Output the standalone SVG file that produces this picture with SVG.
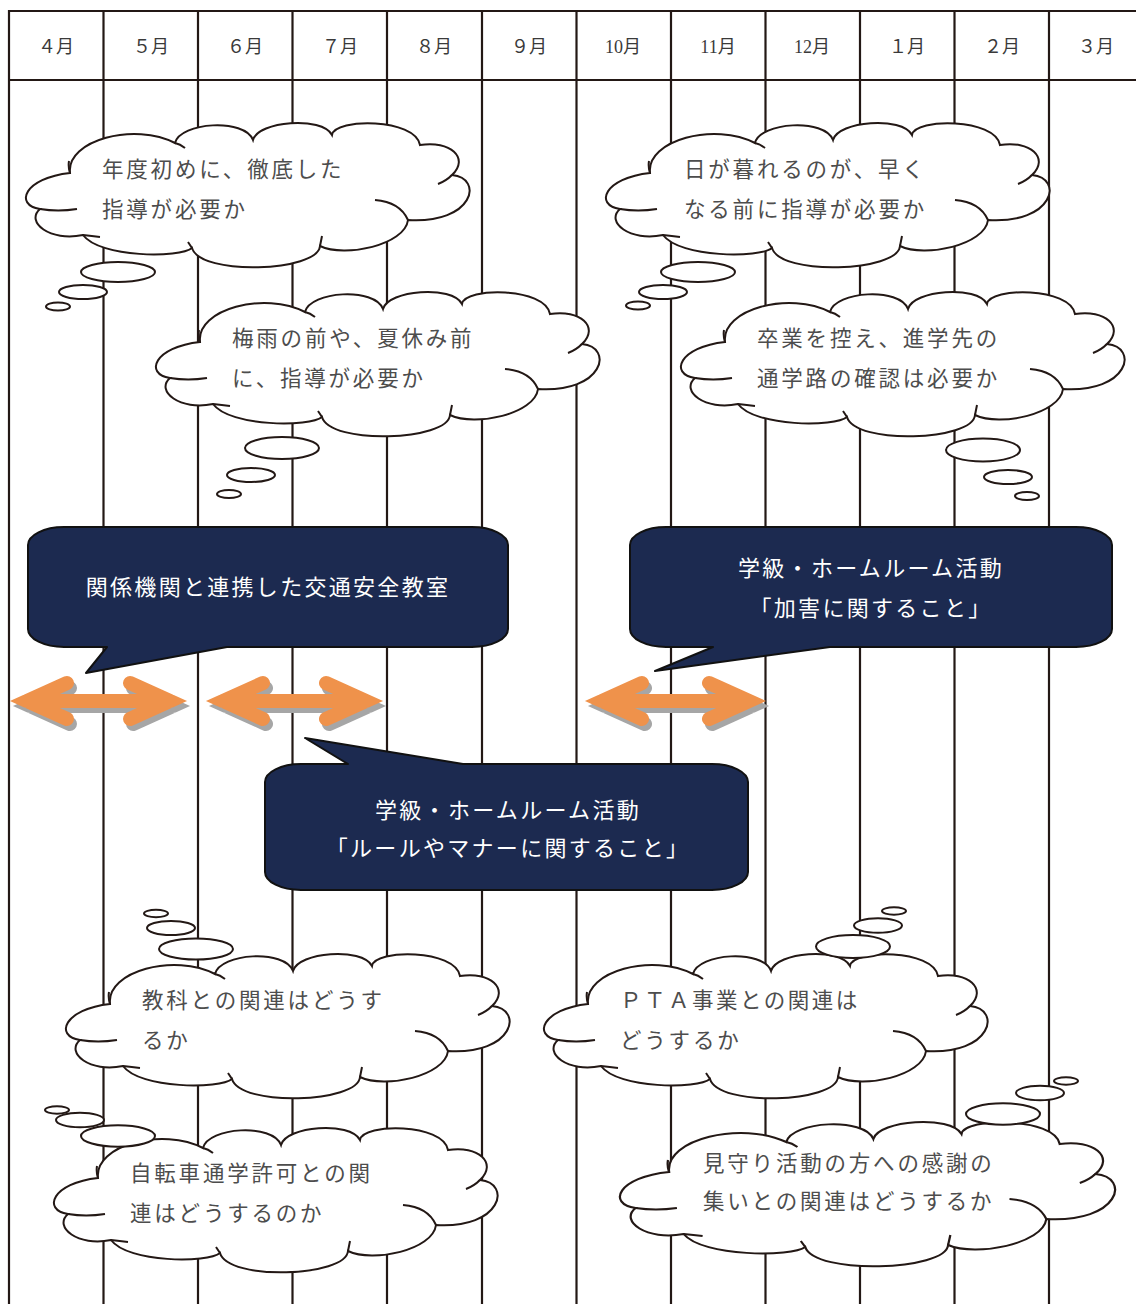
<svg xmlns="http://www.w3.org/2000/svg" xmlns:xlink="http://www.w3.org/1999/xlink" width="1136" height="1304" viewBox="0 0 1136 1304">
<style>
.ln{stroke:#231815;stroke-width:2.2;fill:none}
.cl{fill:#fff;stroke:#231815;stroke-width:2}
.ci{fill:none;stroke:#231815;stroke-width:2}
.ct{font-family:"Noto Sans CJK JP",sans-serif;font-size:21.5px;letter-spacing:2.8px;fill:#4d4d4d}
.co{fill:#1c2a50;stroke:#111;stroke-width:2;stroke-linejoin:round}
.cot{font-family:"Noto Sans CJK JP",sans-serif;font-size:22px;letter-spacing:2.3px;fill:#fff;text-anchor:middle}
.hd{font-family:"Liberation Serif","Noto Sans CJK JP",serif;font-size:18px;fill:#3a3a3a;text-anchor:middle}
.ar{stroke:#EF924B;stroke-width:14;fill:none;stroke-linecap:round;stroke-linejoin:miter;stroke-miterlimit:10}
.sh{stroke:#a6a6a6;stroke-width:14;fill:none;stroke-linecap:round;stroke-linejoin:miter;stroke-miterlimit:10}
</style>
<defs>
<path id="cloudShape" d="M40,209 C14,205 24,178 70,173 C66,140 135,122 175,143 C180,122 245,118 253,140 C258,121 322,116 332,135 C335,118 415,118 420,145 C450,140 470,158 452,175 C484,178 474,224 408,220 C405,245 345,258 320,246 C318,272 200,276 192,248 C180,258 100,258 83,235 C50,242 25,222 40,209 Z"/>
<path id="cloudInner" d="M40,209 Q58,212 77,209 M175,143 Q180,144 185,148 M83,235 Q92,236 100,237 M192,248 Q190,245 188,242 M320,246 Q321,241 322,236 M408,220 Q400,202 375,200 M452,175 Q446,181 438,184 M70,173 Q68,167 69,161"/>
<g id="cloud">
<use xlink:href="#cloudShape" href="#cloudShape" class="cl"/>
<use xlink:href="#cloudInner" href="#cloudInner" class="ci"/>
</g>
</defs>
<rect width="1136" height="1304" fill="#fff"/>
<g id="table">
<line class="ln" x1="9" y1="11" x2="1136" y2="11"/>
<line class="ln" x1="9" y1="80" x2="1136" y2="80"/>
<line class="ln" x1="9" y1="10" x2="9" y2="1304"/>
<line class="ln" x1="103.5" y1="10" x2="103.5" y2="1304"/>
<line class="ln" x1="198" y1="10" x2="198" y2="1304"/>
<line class="ln" x1="292.5" y1="10" x2="292.5" y2="1304"/>
<line class="ln" x1="387" y1="10" x2="387" y2="1304"/>
<line class="ln" x1="482" y1="10" x2="482" y2="1304"/>
<line class="ln" x1="576.5" y1="10" x2="576.5" y2="1304"/>
<line class="ln" x1="671" y1="10" x2="671" y2="1304"/>
<line class="ln" x1="765.5" y1="10" x2="765.5" y2="1304"/>
<line class="ln" x1="860" y1="10" x2="860" y2="1304"/>
<line class="ln" x1="954.5" y1="10" x2="954.5" y2="1304"/>
<line class="ln" x1="1049" y1="10" x2="1049" y2="1304"/>
<text class="hd" x="56" y="53">４月</text>
<text class="hd" x="151" y="53">５月</text>
<text class="hd" x="245" y="53">６月</text>
<text class="hd" x="340" y="53">７月</text>
<text class="hd" x="434" y="53">８月</text>
<text class="hd" x="529" y="53">９月</text>
<text class="hd" x="623" y="53">10月</text>
<text class="hd" x="718" y="53">11月</text>
<text class="hd" x="812" y="53">12月</text>
<text class="hd" x="907" y="53">１月</text>
<text class="hd" x="1002" y="53">２月</text>
<text class="hd" x="1096" y="53">３月</text>
</g>
<g id="cloud-1">
<use xlink:href="#cloud" href="#cloud"/>
<ellipse class="cl" cx="118" cy="272" rx="37" ry="10"/>
<ellipse class="cl" cx="83" cy="292" rx="24" ry="7"/>
<ellipse class="cl" cx="58" cy="306.5" rx="12" ry="4"/>
<text class="ct" x="102" y="177">年度初めに、徹底した</text>
<text class="ct" x="102" y="217">指導が必要か</text>
</g>
<g id="cloud-2">
<use xlink:href="#cloud" href="#cloud" transform="translate(580,0)"/>
<ellipse class="cl" cx="698" cy="272" rx="37" ry="10"/>
<ellipse class="cl" cx="663" cy="292" rx="24" ry="7"/>
<ellipse class="cl" cx="638" cy="305.5" rx="12" ry="4"/>
<text class="ct" x="684" y="177">日が暮れるのが、早く</text>
<text class="ct" x="684" y="217">なる前に指導が必要か</text>
</g>
<g id="cloud-3">
<use xlink:href="#cloud" href="#cloud" transform="translate(130,169)"/>
<ellipse class="cl" cx="282" cy="448" rx="37" ry="11"/>
<ellipse class="cl" cx="251" cy="475" rx="24" ry="7"/>
<ellipse class="cl" cx="229" cy="494" rx="12" ry="4"/>
<text class="ct" x="232" y="346">梅雨の前や、夏休み前</text>
<text class="ct" x="232" y="386">に、指導が必要か</text>
</g>
<g id="cloud-4">
<use xlink:href="#cloud" href="#cloud" transform="translate(655,169)"/>
<ellipse class="cl" cx="983" cy="450" rx="37" ry="11.5"/>
<ellipse class="cl" cx="1008" cy="477" rx="24" ry="7"/>
<ellipse class="cl" cx="1027" cy="496" rx="12" ry="4"/>
<text class="ct" x="757" y="346">卒業を控え、進学先の</text>
<text class="ct" x="757" y="386">通学路の確認は必要か</text>
</g>
<g id="cloud-5">
<use xlink:href="#cloud" href="#cloud" transform="translate(40,831)"/>
<ellipse class="cl" cx="156" cy="913.5" rx="12" ry="3.7"/>
<ellipse class="cl" cx="171" cy="928" rx="24" ry="7"/>
<ellipse class="cl" cx="196" cy="949" rx="37" ry="10.5"/>
<text class="ct" x="142" y="1008">教科との関連はどうす</text>
<text class="ct" x="142" y="1048">るか</text>
</g>
<g id="cloud-6">
<use xlink:href="#cloud" href="#cloud" transform="translate(518,831)"/>
<ellipse class="cl" cx="894" cy="911" rx="12" ry="3.7"/>
<ellipse class="cl" cx="878" cy="925.5" rx="24" ry="7.3"/>
<ellipse class="cl" cx="853" cy="946.5" rx="37" ry="11.5"/>
<text class="ct" x="620" y="1008" textLength="240" lengthAdjust="spacing">ＰＴＡ事業との関連は</text>
<text class="ct" x="620" y="1048">どうするか</text>
</g>
<g id="cloud-7">
<use xlink:href="#cloud" href="#cloud" transform="translate(28,1005)"/>
<ellipse class="cl" cx="57" cy="1110" rx="12" ry="3.7"/>
<ellipse class="cl" cx="80" cy="1120" rx="24" ry="7.3"/>
<ellipse class="cl" cx="118" cy="1136" rx="37" ry="10.7"/>
<text class="ct" x="130" y="1181">自転車通学許可との関</text>
<text class="ct" x="130" y="1221">連はどうするのか</text>
</g>
<g id="cloud-8">
<use xlink:href="#cloud" href="#cloud" transform="translate(591,999) scale(1.116,1)"/>
<ellipse class="cl" cx="1066" cy="1081" rx="12" ry="3.7"/>
<ellipse class="cl" cx="1040" cy="1093" rx="24" ry="7.3"/>
<ellipse class="cl" cx="1003" cy="1114" rx="37" ry="10.7"/>
<text class="ct" x="703" y="1171">見守り活動の方への感謝の</text>
<text class="ct" x="703" y="1209">集いとの関連はどうするか</text>
</g>
<g id="callout-1">
<path class="co" d="M64,527 H472 A36,18 0 0 1 508,545 V629 A36,18 0 0 1 472,647 H227 L86,673 L107,647 H64 A36,18 0 0 1 28,629 V545 A36,18 0 0 1 64,527 Z"/>
<text class="cot" x="268" y="595">関係機関と連携した交通安全教室</text>
</g>
<g id="callout-2">
<path class="co" d="M666,527 H1076 A36,18 0 0 1 1112,545 V629 A36,18 0 0 1 1076,647 H830 L655,671 L713,647 H666 A36,18 0 0 1 630,629 V545 A36,18 0 0 1 666,527 Z"/>
<text class="cot" x="871" y="576">学級・ホームルーム活動</text>
<text class="cot" x="871" y="616">「加害に関すること」</text>
</g>
<g id="callout-3">
<path class="co" d="M301,764 H348 L305,738 L463,764 H712 A36,18 0 0 1 748,782 V872 A36,18 0 0 1 712,890 H301 A36,18 0 0 1 265,872 V782 A36,18 0 0 1 301,764 Z"/>
<text class="cot" x="508" y="818">学級・ホームルーム活動</text>
<text class="cot" x="508" y="856">「ルールやマナーに関すること」</text>
</g>
<g id="connectors">
<g transform="translate(11,701)">
<path class="sh" transform="translate(3,5)" d="M16,0 H159 M56,-18 L16,0 L56,18 M119,-18 L159,0 L119,18"/>
<path class="ar" d="M16,0 H159 M56,-18 L16,0 L56,18 M119,-18 L159,0 L119,18"/>
</g>
<g transform="translate(207,701)">
<path class="sh" transform="translate(3,5)" d="M16,0 H159 M56,-18 L16,0 L56,18 M119,-18 L159,0 L119,18"/>
<path class="ar" d="M16,0 H159 M56,-18 L16,0 L56,18 M119,-18 L159,0 L119,18"/>
</g>
<g transform="translate(586,701)">
<path class="sh" transform="translate(3,5)" d="M16,0 H163 M56,-18 L16,0 L56,18 M123,-18 L163,0 L123,18"/>
<path class="ar" d="M16,0 H163 M56,-18 L16,0 L56,18 M123,-18 L163,0 L123,18"/>
</g>
</g>
</svg>
